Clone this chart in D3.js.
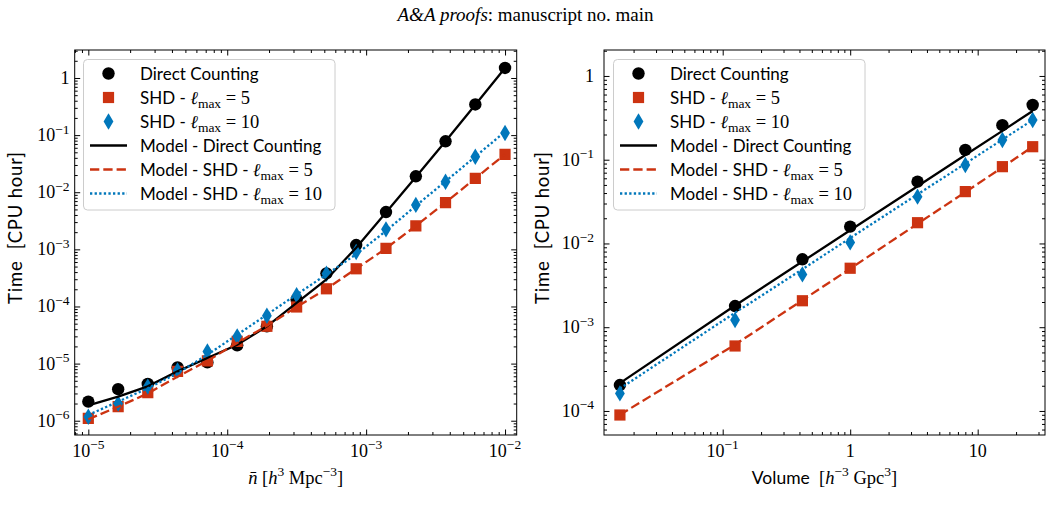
<!DOCTYPE html>
<html>
<head>
<meta charset="utf-8">
<script src="https://cdn.jsdelivr.net/npm/d3@7"></script>
<style>
  html, body { margin: 0; padding: 0; background: #ffffff; }
  svg { display: block; }
  text { white-space: pre; }
</style>
</head>
<body>
<script>
// ---------------- DATA ----------------
// Left panel: number density n̄ [h^3 Mpc^-3]
const nbar = [1.00e-5, 1.64e-5, 2.68e-5, 4.39e-5, 7.20e-5, 1.18e-4, 1.93e-4, 3.16e-4, 5.18e-4, 8.48e-4, 1.39e-3, 2.28e-3, 3.73e-3, 6.11e-3, 1.00e-2];
const dcTimeL    = [2.16e-6, 3.56e-6, 4.4e-6, 8.55e-6, 1.05e-5, 2.09e-5, 4.5e-5, 1.32e-4, 3.8e-4, 1.19e-3, 4.5e-3, 0.019, 0.078, 0.344, 1.5];
const shd5TimeL  = [1.1e-6, 1.76e-6, 3.1e-6, 7.3e-6, 1.12e-5, 2.45e-5, 4.5e-5, 9.8e-5, 2.04e-4, 4.57e-4, 1.04e-3, 2.57e-3, 6.6e-3, 0.0175, 0.046];
const shd10TimeL = [1.17e-6, 2.0e-6, 3.96e-6, 7.6e-6, 1.63e-5, 3.0e-5, 6.9e-5, 1.58e-4, 3.73e-4, 8.97e-4, 2.24e-3, 6.0e-3, 0.0153, 0.0419, 0.109];
const modelDcL    = [1.85e-6, 2.64e-6, 4.0e-6, 7.3e-6, 1.25e-5, 2.14e-5, 4.5e-5, 1.16e-4, 2.97e-4, 1.07e-3, 4.4e-3, 0.0185, 0.078, 0.34, 1.5];
const modelShd5L  = [1.06e-6, 1.76e-6, 3.0e-6, 5.9e-6, 1.12e-5, 2.3e-5, 4.6e-5, 9.8e-5, 2.04e-4, 4.57e-4, 1.04e-3, 2.57e-3, 6.6e-3, 0.0175, 0.046];
const modelShd10L = [1.26e-6, 2.16e-6, 3.7e-6, 6.8e-6, 1.43e-5, 3.2e-5, 7.2e-5, 1.62e-4, 3.63e-4, 8.2e-4, 2.1e-3, 5.8e-3, 0.0155, 0.042, 0.115];

// Right panel: volume [h^-3 Gpc^3]
const volume = [0.015625, 0.125, 0.421875, 1, 3.375, 8, 15.625, 27];
const dcTimeR    = [2.04e-4, 1.79e-3, 6.47e-3, 0.0159, 0.0547, 0.131, 0.258, 0.45];
const shd5TimeR  = [8.95e-5, 5.97e-4, 2.07e-3, 5.06e-3, 0.0177, 0.0416, 0.0826, 0.143];
const shd10TimeR = [1.62e-4, 1.22e-3, 4.27e-3, 0.0103, 0.0362, 0.0865, 0.172, 0.298];
const modelDcR    = [2.15e-4, 1.82e-3, 6.08e-3, 0.0144, 0.0481, 0.1138, 0.221, 0.381];
const modelShd5R  = [9.0e-5, 6.2e-4, 2.1e-3, 5.0e-3, 0.0172, 0.041, 0.081, 0.143];
const modelShd10R = [1.85e-4, 1.49e-3, 4.93e-3, 0.0116, 0.0385, 0.0899, 0.174, 0.298];

// Tick values
const xTicksL = [1e-5, 1e-4, 1e-3, 1e-2];
const yTicksL = [1e-6, 1e-5, 1e-4, 1e-3, 1e-2, 1e-1, 1];
const xTicksR = [0.1, 1, 10];
const yTicksR = [1e-4, 1e-3, 1e-2, 1e-1, 1];

const legendLabels = ["Direct Counting", "SHD - ℓmax = 5", "SHD - ℓmax = 10",
                      "Model - Direct Counting", "Model - SHD - ℓmax = 5", "Model - SHD - ℓmax = 10"];

// ---------------- STYLE ----------------
const BLACK = "#000000", RED = "#CC3311", BLUE = "#0077BB";
const SERIF = "'Liberation Serif', 'DejaVu Serif', serif";
const SANS = "Lato, 'DejaVu Sans', sans-serif";

const W = 1053, H = 507;
const svg = d3.select("body").append("svg").attr("width", W).attr("height", H)
  .attr("xmlns", "http://www.w3.org/2000/svg");
svg.append("rect").attr("width", W).attr("height", H).attr("fill", "#fff");

// header
const hdr = svg.append("text").attr("x", 525.5).attr("y", 20.5).attr("text-anchor", "middle")
  .attr("font-family", SERIF).attr("font-size", 19).attr("fill", "#000");
hdr.append("tspan").attr("font-style", "italic").text("A&A proofs");
hdr.append("tspan").text(": manuscript no. main");

function minorTicks(domain) {
  const lo = Math.log10(domain[0]), hi = Math.log10(domain[1]);
  const out = [];
  for (let d = Math.floor(lo); d <= Math.ceil(hi); d++) {
    for (let k = 2; k <= 9; k++) {
      const v = k * Math.pow(10, d);
      if (v >= domain[0] && v <= domain[1]) out.push(v);
    }
  }
  return out;
}

function tickLabel(sel, v) {
  const e = Math.round(Math.log10(v));
  if (e === 0) { sel.append("tspan").text("1"); return; }
  if (e === 1) { sel.append("tspan").text("10"); return; }
  sel.append("tspan").text("10");
  sel.append("tspan").attr("font-size", 13.5).attr("dy", -7.5).text("−" + Math.abs(e));
}

function markerPath(kind) {
  if (kind === "circle") return d3.symbol().type(d3.symbolCircle).size(Math.PI * 6.2 * 6.2)();
  if (kind === "square") return "M-5.6,-5.6H5.6V5.6H-5.6Z";
  return "M0,-8.2L4.9,0L0,8.2L-4.9,0Z";
}

const seriesStyles = [
  { kind: "circle", color: BLACK },
  { kind: "square", color: RED },
  { kind: "diamond", color: BLUE }
];
const lineStyles = [
  { color: BLACK, dash: null },
  { color: RED, dash: "9.3,4" },
  { color: BLUE, dash: "2.3,2.3" }
];

function drawPanel(cfg) {
  const g = svg.append("g");
  const x = d3.scaleLog().domain(cfg.xd).range([cfg.x0, cfg.x1]);
  const y = d3.scaleLog().domain(cfg.yd).range([cfg.y1, cfg.y0]);

  // ticks (inward on all four sides)
  const mk = (axisFn, scale, vals, size, tr) => {
    const a = g.append("g").attr("transform", tr)
      .call(axisFn(scale).tickValues(vals).tickSize(size).tickFormat(""));
    a.select(".domain").remove();
    a.selectAll("line").attr("stroke", "#000").attr("stroke-width", 1);
  };
  const xMin = minorTicks(cfg.xd), yMin = minorTicks(cfg.yd);
  mk(d3.axisBottom, x, cfg.xTicks, -5.5, `translate(0,${cfg.y1})`);
  mk(d3.axisBottom, x, xMin, -3, `translate(0,${cfg.y1})`);
  mk(d3.axisTop, x, cfg.xTicks, -5.5, `translate(0,${cfg.y0})`);
  mk(d3.axisTop, x, xMin, -3, `translate(0,${cfg.y0})`);
  mk(d3.axisLeft, y, cfg.yTicks, -5.5, `translate(${cfg.x0},0)`);
  mk(d3.axisLeft, y, yMin, -3, `translate(${cfg.x0},0)`);
  mk(d3.axisRight, y, cfg.yTicks, -5.5, `translate(${cfg.x1},0)`);
  mk(d3.axisRight, y, yMin, -3, `translate(${cfg.x1},0)`);

  // tick labels
  cfg.xTicks.forEach(v => {
    const t = g.append("text").attr("x", x(v)).attr("y", 456.5).attr("text-anchor", "middle")
      .attr("font-family", SERIF).attr("font-size", 18).attr("fill", "#000");
    tickLabel(t, v);
  });
  cfg.yTicks.forEach(v => {
    const t = g.append("text").attr("x", cfg.yLabX).attr("y", y(v) + 6).attr("text-anchor", "end")
      .attr("font-family", SERIF).attr("font-size", 18).attr("fill", "#000");
    tickLabel(t, v);
  });

  // clip
  const cid = "clip" + cfg.id;
  svg.append("clipPath").attr("id", cid).append("rect")
    .attr("x", cfg.x0).attr("y", cfg.y0).attr("width", cfg.x1 - cfg.x0).attr("height", cfg.y1 - cfg.y0);
  const plot = g.append("g").attr("clip-path", `url(#${cid})`);

  // markers
  cfg.points.forEach((ser, i) => {
    const st = seriesStyles[i];
    plot.append("g").selectAll("path").data(ser).join("path")
      .attr("transform", (d, j) => `translate(${x(cfg.xs[j])},${y(d)})`)
      .attr("d", markerPath(st.kind)).attr("fill", st.color);
  });
  // model lines
  const line = d3.line().x((d, j) => x(cfg.xs[j])).y(d => y(d));
  cfg.models.forEach((ser, i) => {
    const st = lineStyles[i];
    const p = plot.append("path").datum(ser).attr("d", line).attr("fill", "none")
      .attr("stroke", st.color).attr("stroke-width", 2.3);
    if (st.dash) p.attr("stroke-dasharray", st.dash);
  });

  // frame
  g.append("rect").attr("x", cfg.x0).attr("y", cfg.y0).attr("width", cfg.x1 - cfg.x0)
    .attr("height", cfg.y1 - cfg.y0).attr("fill", "none").attr("stroke", "#000").attr("stroke-width", 1);

  // y label
  g.append("text").attr("transform", `translate(${cfg.yTitleX},228) rotate(-90)`)
    .attr("text-anchor", "middle").attr("font-family", SANS).attr("font-size", 18.5)
    .attr("textLength", 152).attr("lengthAdjust", "spacing")
    .attr("fill", "#000").text("Time\u00a0\u00a0[CPU hour]");

  // x label
  const xl = g.append("text").attr("x", (cfg.x0 + cfg.x1) / 2).attr("y", 483.5)
    .attr("text-anchor", "middle").attr("font-family", SERIF).attr("font-size", 18.5).attr("fill", "#000");
  cfg.xTitle(xl);

  // legend
  const lg = g.append("g");
  lg.append("rect").attr("x", cfg.legX).attr("y", 59.5).attr("width", 251.5).attr("height", 150.5)
    .attr("rx", 4).attr("fill", "#fff").attr("fill-opacity", 0.8)
    .attr("stroke", "#cccccc").attr("stroke-width", 1);
  legendLabels.forEach((lab, i) => {
    const cy = 73.5 + 24 * i;
    const mx = cfg.legX + 25;
    if (i < 3) {
      const st = seriesStyles[i];
      lg.append("path").attr("transform", `translate(${mx},${cy})`).attr("d", markerPath(st.kind)).attr("fill", st.color);
    } else {
      const st = lineStyles[i - 3];
      const p = lg.append("line").attr("x1", mx - 18.5).attr("x2", mx + 18.5).attr("y1", cy).attr("y2", cy)
        .attr("stroke", st.color).attr("stroke-width", 2.3);
      if (st.dash) p.attr("stroke-dasharray", st.dash);
    }
    const t = lg.append("text").attr("x", cfg.legX + 56.5).attr("y", cy + 6)
      .attr("font-family", SANS).attr("font-size", 17).attr("fill", "#000");
    const k = lab.indexOf("ℓ");
    if (k < 0) { t.text(lab); }
    else {
      t.append("tspan").text(lab.slice(0, k));
      t.append("tspan").attr("font-family", SERIF).attr("font-size", 18.5).attr("font-style", "italic").text("ℓ");
      t.append("tspan").attr("font-family", SERIF).attr("font-size", 13.5).attr("dy", 4).text("max");
      t.append("tspan").attr("font-family", SERIF).attr("font-size", 18.5).attr("dy", -4)
        .text("\u00a0=\u00a0" + lab.slice(k + 7));
    }
  });
}

drawPanel({
  id: "L", x0: 74.7, x1: 516.7, y0: 50, y1: 435,
  xd: [Math.pow(10, -5.098), Math.pow(10, -1.916)], yd: [Math.pow(10, -6.25), Math.pow(10, 0.49)],
  xTicks: xTicksL, yTicks: yTicksL, yLabX: 69.5, yTitleX: 22, legX: 83.5,
  xs: nbar, points: [dcTimeL, shd5TimeL, shd10TimeL], models: [modelDcL, modelShd5L, modelShd10L],
  xTitle: t => {
    t.append("tspan").attr("font-style", "italic").text("n\u0304");
    t.append("tspan").text("\u00a0[");
    t.append("tspan").attr("font-style", "italic").text("h");
    t.append("tspan").attr("font-size", 13.5).attr("dy", -7.5).text("3");
    t.append("tspan").attr("dy", 7.5).text("\u00a0Mpc");
    t.append("tspan").attr("font-size", 13.5).attr("dy", -7.5).text("−3");
    t.append("tspan").attr("dy", 7.5).text("]");
  }
});

drawPanel({
  id: "R", x0: 604, x1: 1045, y0: 50, y1: 435,
  xd: [Math.pow(10, -1.931), Math.pow(10, 1.528)], yd: [Math.pow(10, -4.287), Math.pow(10, 0.31)],
  xTicks: xTicksR, yTicks: yTicksR, yLabX: 594, yTitleX: 549, legX: 613.5,
  xs: volume, points: [dcTimeR, shd5TimeR, shd10TimeR], models: [modelDcR, modelShd5R, modelShd10R],
  xTitle: t => {
    t.append("tspan").attr("font-family", SANS).attr("font-size", 17.5).text("Volume");
    t.append("tspan").text("\u00a0\u00a0[");
    t.append("tspan").attr("font-style", "italic").text("h");
    t.append("tspan").attr("font-size", 13.5).attr("dy", -7.5).text("−3");
    t.append("tspan").attr("dy", 7.5).text("\u00a0Gpc");
    t.append("tspan").attr("font-size", 13.5).attr("dy", -7.5).text("3");
    t.append("tspan").attr("dy", 7.5).text("]");
  }
});
</script>
</body>
</html>
